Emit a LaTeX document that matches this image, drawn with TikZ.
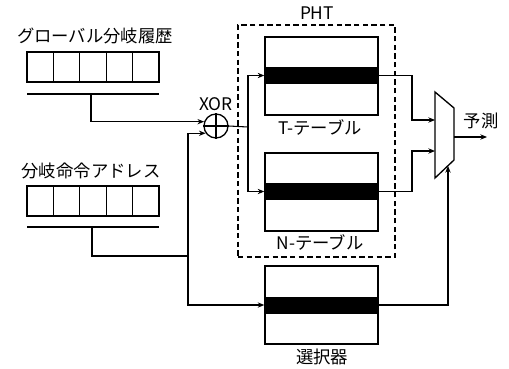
\documentclass[tikz,border=0pt]{standalone}
\usepackage{fontspec}
\setmainfont{Noto Sans CJK JP}
\usetikzlibrary{arrows.meta,calc}
\tikzset{
  lbl/.style={inner sep=0pt, font=\fontsize{13}{13}\selectfont},
  cell/.style={draw, line width=1pt, inner sep=0pt, minimum width=19.8pt, minimum height=22.5pt},
  tbl/.style={draw, line width=1pt, inner sep=0pt, minimum width=84.75pt, minimum height=58.5pt},
  band/.style={fill=black, inner sep=0pt, minimum width=84.75pt, minimum height=12.75pt},
  conn/.style={line width=0.8pt},
  arr/.style={conn, -{Stealth[length=5pt,width=4pt]}},
  pht/.style={draw, line width=0.8pt, dash pattern=on 4pt off 2.5pt, inner sep=0pt, minimum width=117.75pt, minimum height=174pt},
  xorc/.style={draw, circle, line width=1pt, inner sep=0pt, minimum size=18pt}
}
\begin{document}
\begin{tikzpicture}[x=0.75pt,y=-0.75pt]
\useasboundingbox (0,0) rectangle (509,368);
% labels
\node[lbl] (lgh) at (95,36) {グローバル分岐履歴};
\node[lbl] (lba) at (91,171) {分岐命令アドレス};
% registers
\foreach \i in {0,...,4} {
  \node[cell] (gh\i) at (40.2+26.4*\i,67) {};
  \node[cell] (ba\i) at (40.2+26.4*\i,201) {};
}
% bus lines under registers
\coordinate (ghl) at (27,94); \coordinate (ghr) at (159,94);
\draw[conn] (ghl) -- (ghr);
\coordinate (ghs) at (91,94);
\coordinate (bal) at (27,227); \coordinate (bar) at (159,227);
\draw[conn] (bal) -- (bar);
\coordinate (bas) at (92,227);
% XOR
\node[xorc] (xor) at (216,126) {};
\draw[line width=1.6pt] (xor.north) -- (xor.south) (xor.west) -- (xor.east);
\node[lbl] (lxor) at (216,104) {XOR};
% PHT
\node[pht] (phtbox) at (316.5,141) {};
\node[lbl] (lpht) at (317,13) {PHT};
% tables
\node[tbl] (tt) at (321.5,76) {};
\node[band] (ttb) at (321.5,75.5) {};
\node[lbl] (ltt) at (320,127) {T-テーブル};
\node[tbl] (nt) at (321.5,192) {};
\node[band] (ntb) at (321.5,191.5) {};
\node[lbl] (lnt) at (320,242) {N-テーブル};
\node[tbl] (sel) at (321.5,305) {};
\node[band] (selb) at (321.5,305) {};
\node[lbl] (lsel) at (322,357) {選択器};
% mux
\coordinate (m1) at (435,92); \coordinate (m2) at (454,108);
\coordinate (m3) at (454,160); \coordinate (m4) at (435,178);
\draw[line width=1pt] (m1) -- (m2) -- (m3) -- (m4) -- cycle;
\coordinate (min1) at (435,120); \coordinate (min2) at (435,151);
\coordinate (msel) at (448,166); \coordinate (mout) at (454,137);
\coordinate (pout) at (487,137);
\node[lbl] (lpred) at (481,121) {予測};
% connectors
\draw[arr] (ghs) |- (xor.160);
\coordinate (vj) at (188,256);
\draw[conn] (bas) |- (vj);
\draw[arr] (vj) |- (xor.215);
\draw[arr] (vj) |- (sel.west |- selb.center);
\coordinate (fx) at (248,127);
\draw[conn] (xor.east) -- (fx);
\draw[arr] (fx) |- (tt.west |- ttb.center);
\draw[arr] (fx) |- (nt.west |- ntb.center);
\draw[arr] (tt.east |- ttb.center) -- (412,75.5) |- (min1);
\draw[arr] (nt.east |- ntb.center) -- (412,191.5) |- (min2);
\draw[arr] (sel.east |- selb.center) -| (msel);
\draw[arr] (mout) -- (pout);
\end{tikzpicture}
\end{document}
